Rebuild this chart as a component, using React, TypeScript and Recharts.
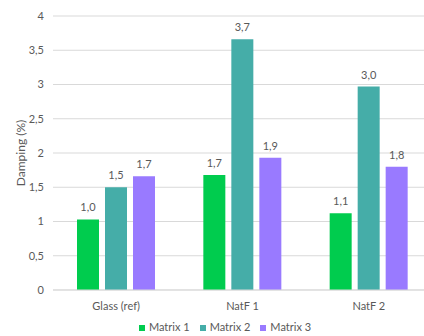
import React from "react";
import {
  BarChart,
  Bar,
  XAxis,
  YAxis,
  CartesianGrid,
  Legend,
  LabelList,
  Label,
} from "recharts";

const categories = ["Glass (ref)", "NatF 1", "NatF 2"];
const matrix1 = [1.03, 1.68, 1.12];
const matrix2 = [1.5, 3.66, 2.97];
const matrix3 = [1.66, 1.93, 1.8];
const yTicks = [0, 0.5, 1, 1.5, 2, 2.5, 3, 3.5, 4];

const data = categories.map((name, i) => ({
  name,
  m1: matrix1[i],
  m2: matrix2[i],
  m3: matrix3[i],
}));

const FONT = "Lato, 'Open Sans', sans-serif";
const GRAY = "#595959";

const comma = (v: number, digits: number) =>
  Number(v).toFixed(digits).replace(".", ",");
const tickFmt = (v: number) => String(v).replace(".", ",");

export default function App() {
  return (
    <div
      style={{
        position: "absolute",
        left: 0,
        top: 0,
        width: 424,
        height: 336,
        overflow: "hidden",
        background: "#fff",
        fontFamily: FONT,
      }}
    >
      <BarChart
        width={432}
        height={336}
        data={data}
        margin={{ top: 16, right: 0, left: 0, bottom: 3 }}
        barCategoryGap="19%"
        barGap={6}
      >
        <CartesianGrid vertical={false} stroke="#d9d9d9" />
        <XAxis
          dataKey="name"
          axisLine={{ stroke: "#d9d9d9" }}
          tickLine={false}
          tick={{ fill: GRAY, fontSize: 11, fontFamily: FONT }}
          tickMargin={6}
          height={30}
        />
        <YAxis
          domain={[0, 4]}
          ticks={yTicks}
          tickFormatter={tickFmt}
          axisLine={false}
          tickLine={false}
          tickSize={0}
          tickMargin={9}
          width={53}
          tick={{ fill: GRAY, fontSize: 11, fontFamily: FONT }}
        >
          <Label
            content={() => (
              <text
                x={20}
                y={153}
                transform="rotate(-90, 20, 153)"
                textAnchor="middle"
                dominantBaseline="central"
                fill={GRAY}
                fontSize={12}
                fontFamily={FONT}
              >
                Damping (%)
              </text>
            )}
          />
        </YAxis>
        <Legend
          verticalAlign="bottom"
          iconType="square"
          iconSize={6}
          wrapperStyle={{ fontSize: 11, fontFamily: FONT, color: GRAY, left: 14 }}
          formatter={(v) => <span style={{ color: GRAY }}>{v}</span>}
        />
        <Bar dataKey="m1" name="Matrix 1" fill="#00cc4e" isAnimationActive={false}>
          <LabelList
            dataKey="m1"
            position="top"
            offset={8}
            formatter={(v: number) => comma(v, 1)}
            style={{ fill: GRAY, fontSize: 11, fontFamily: FONT }}
          />
        </Bar>
        <Bar dataKey="m2" name="Matrix 2" fill="#45ada8" isAnimationActive={false}>
          <LabelList
            dataKey="m2"
            position="top"
            offset={8}
            formatter={(v: number) => comma(v, 1)}
            style={{ fill: GRAY, fontSize: 11, fontFamily: FONT }}
          />
        </Bar>
        <Bar dataKey="m3" name="Matrix 3" fill="#997aff" isAnimationActive={false}>
          <LabelList
            dataKey="m3"
            position="top"
            offset={8}
            formatter={(v: number) => comma(v, 1)}
            style={{ fill: GRAY, fontSize: 11, fontFamily: FONT }}
          />
        </Bar>
      </BarChart>
    </div>
  );
}
